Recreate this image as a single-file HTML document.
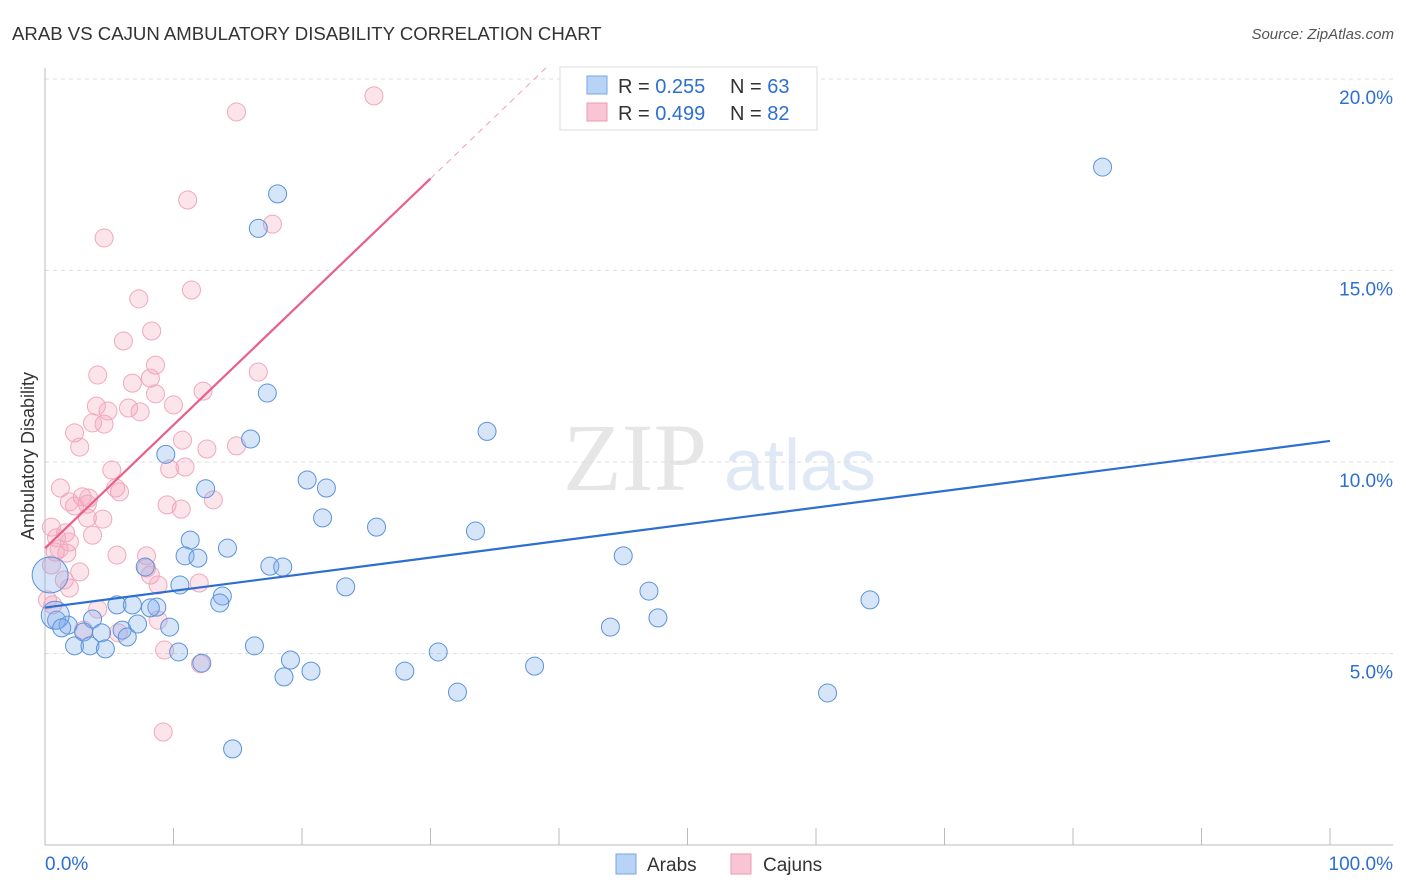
<!DOCTYPE html>
<html><head><meta charset="utf-8"><style>
body{margin:0;background:#fff;font-family:"Liberation Sans",sans-serif}
svg{display:block}
</style></head><body>
<svg id="c" width="1406" height="892">
<text x="12" y="40" font-size="18.6" fill="#333">ARAB VS CAJUN AMBULATORY DISABILITY CORRELATION CHART</text>
<text x="1394" y="39" font-size="15" fill="#555" font-style="italic" text-anchor="end">Source: ZipAtlas.com</text>
<text x="34" y="456" font-size="18" fill="#333" text-anchor="middle" transform="rotate(-90 34 456)">Ambulatory Disability</text>
<g><text x="635" y="490" font-size="96" font-family="Liberation Serif" fill="#e6e6e6" text-anchor="middle">ZIP</text><text x="800" y="490" font-size="72" fill="#dfe8f5" text-anchor="middle">atlas</text></g>
<g id="grid"></g><g id="axes"></g><g id="pts"></g><g id="lines"></g>
<g>
<rect x="560" y="67" width="257" height="63" fill="#fff" stroke="#ddd"/>
<rect x="587" y="76" width="20" height="18" fill="#b8d3f5" stroke="#7aa7e0"/>
<rect x="587" y="103" width="20" height="18" fill="#f9c5d4" stroke="#ec9ab3"/>
<text x="618" y="93" font-size="20" fill="#333">R = <tspan fill="#2d6fd1">0.255</tspan></text>
<text x="730" y="93" font-size="20" fill="#333">N = <tspan fill="#2d6fd1">63</tspan></text>
<text x="618" y="120" font-size="20" fill="#333">R = <tspan fill="#2d6fd1">0.499</tspan></text>
<text x="730" y="120" font-size="20" fill="#333">N = <tspan fill="#2d6fd1">82</tspan></text>
</g>
<g>
<rect x="616" y="854" width="20" height="20" fill="#b8d3f5" stroke="#7aa7e0"/>
<text x="647" y="871" font-size="19" fill="#333">Arabs</text>
<rect x="731" y="854" width="20" height="20" fill="#f9c5d4" stroke="#ec9ab3"/>
<text x="763" y="871" font-size="19" fill="#333">Cajuns</text>
</g>
</svg>
<script>
const yTicks=[5,10,15,20];
const yTickLabels=["5.0%","10.0%","15.0%","20.0%"];
const xTicks=[0,10,20,30,40,50,60,70,80,90,100];
const arabX=[18.1,16.6,82.3,17.3,34.4,16.0,9.4,20.4,21.9,12.5,21.6,25.8,33.5,11.3,14.2,10.9,11.9,45.0,7.8,17.5,18.5,10.5,23.4,47.0,13.8,13.6,64.2,5.6,6.8,8.7,8.2,0.9,1.8,3.7,7.2,9.7,47.7,3.0,4.4,6.0,6.4,44.0,2.3,3.5,4.7,10.4,16.3,30.6,19.1,12.2,38.1,20.7,28.0,18.6,32.1,60.9,14.6,0.4,0.8,1.3];
const arabY=[17.0,16.1,17.7,11.8,10.8,10.6,10.2,9.53,9.32,9.3,8.54,8.3,8.2,7.96,7.75,7.55,7.49,7.55,7.26,7.28,7.26,6.79,6.74,6.63,6.5,6.32,6.4,6.27,6.27,6.21,6.19,5.87,5.74,5.9,5.77,5.69,5.93,5.56,5.54,5.61,5.43,5.69,5.2,5.2,5.12,5.04,5.2,5.04,4.83,4.75,4.67,4.54,4.54,4.39,3.99,3.97,2.51,7.05,6.0,5.67];
const cajunX=[25.6,14.9,11.1,4.6,17.7,11.4,7.3,8.3,6.1,8.6,4.1,16.6,8.2,6.8,12.3,8.6,4.0,6.5,10.0,7.4,4.9,3.7,4.6,10.7,2.3,2.7,14.9,12.6,5.2,9.7,10.9,1.2,13.1,1.9,2.9,3.4,5.5,5.8,2.3,3.3,9.5,10.6,4.5,3.3,0.5,1.6,3.7,0.9,1.9,1.1,0.8,1.7,5.6,7.9,7.9,2.7,0.5,1.5,1.9,8.2,8.8,12.0,4.1,0.2,0.6,8.8,5.7,9.3,12.1,9.2,3.0];
const cajunY=[19.56,19.14,16.84,15.85,16.21,14.49,14.26,13.42,13.16,12.53,12.27,12.35,12.19,12.06,11.85,11.78,11.46,11.41,11.49,11.31,11.33,11.02,10.99,10.57,10.76,10.39,10.42,10.34,9.79,9.82,9.87,9.32,9.01,8.96,9.09,9.06,9.32,9.22,8.85,8.9,8.88,8.77,8.51,8.54,8.3,8.15,8.09,8.02,7.91,7.73,7.65,7.62,7.57,7.55,7.23,7.13,7.31,6.92,6.71,7.05,6.79,6.84,6.16,6.4,6.27,5.87,5.54,5.09,4.73,2.95,5.61];
const arabTrend=[6.2,10.55];   // y at x=0 and x=100
const cajunTrend=[7.75,17.4];  // y at x=0 and x=30
const X=v=>45+v*12.85, Y=v=>845-v*38.3;
const NS="http://www.w3.org/2000/svg";
function mk(tag,attrs,parent){const e=document.createElementNS(NS,tag);for(const k in attrs)e.setAttribute(k,attrs[k]);document.getElementById(parent).appendChild(e);return e;}
yTicks.forEach((t,i)=>{
 const l=mk('line',{x1:45,x2:1393,y1:Y(t),y2:Y(t),stroke:'#ddd','stroke-dasharray':'4,4'},'grid');
 
 
 const tx=mk('text',{x:1393,y:Y(t)+25,'font-size':19,fill:'#2d6fd1','text-anchor':'end'},'grid');
 tx.textContent=yTickLabels[i];
 
 
});
const ya=mk('line',{x1:45,x2:45,y1:68,y2:845,stroke:'#bbb'},'axes');


const xa=mk('line',{x1:45,x2:1393,y1:845,y2:845,stroke:'#bbb'},'axes');


xTicks.forEach(t=>{
 const l=mk('line',{x1:X(t),x2:X(t),y1:828,y2:845,stroke:'#bbb'},'axes');
 
 
});
const xl0=mk('text',{x:45,y:870,'font-size':19,fill:'#2d6fd1'},'axes');xl0.textContent='0.0%';


const xl1=mk('text',{x:1393,y:870,'font-size':19,fill:'#2d6fd1','text-anchor':'end'},'axes');xl1.textContent='100.0%';


cajunX.forEach((v,i)=>{
 const c=mk('circle',{cx:X(v),cy:Y(cajunY[i]),r:9,fill:'rgba(245,165,190,0.3)',stroke:'#f0a8be','stroke-width':1},'pts');
 
 
});
arabX.forEach((v,i)=>{
 const r=i==arabX.length-3?18:(i==arabX.length-2?14:9);
 const c=mk('circle',{cx:X(v),cy:Y(arabY[i]),r:r,fill:'rgba(130,175,235,0.32)',stroke:'#5a93dc','stroke-width':1},'pts');
 
 
});
const bl=mk('line',{x1:X(0),y1:Y(arabTrend[0]),x2:X(100),y2:Y(arabTrend[1]),stroke:'#2d6fd1','stroke-width':2.2},'lines');


const pl=mk('line',{x1:X(0),y1:Y(cajunTrend[0]),x2:X(30),y2:Y(cajunTrend[1]),stroke:'#e8608a','stroke-width':2.2},'lines');


const slope=(cajunTrend[1]-cajunTrend[0])/30, xe=(20.3-cajunTrend[0])/slope;
const pd=mk('line',{x1:X(30),y1:Y(cajunTrend[1]),x2:X(xe),y2:Y(cajunTrend[0]+slope*xe),stroke:'#f0a0b8','stroke-width':1,'stroke-dasharray':'6,5'},'lines');


</script>
</body></html>
